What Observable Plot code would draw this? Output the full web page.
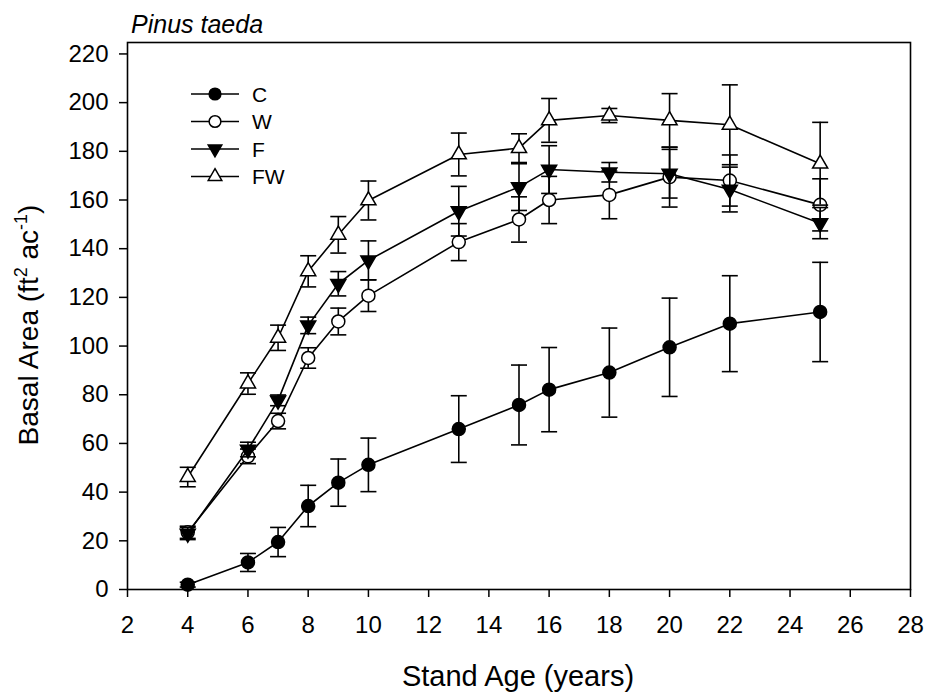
<!DOCTYPE html>
<html>
<head>
<meta charset="utf-8">
<script src="https://cdn.jsdelivr.net/npm/d3@7"></script>
<script src="https://cdn.jsdelivr.net/npm/@observablehq/plot@0.6"></script>
<style>
  html, body { margin: 0; padding: 0; background: #fff; }
  #chart { width: 925px; height: 692px; }
</style>
</head>
<body>
<div id="chart"></div>
<script>
// ---- data ----
const ages = [4, 6, 7, 8, 9, 10, 13, 15, 16, 18, 20, 22, 25];
const seriesNames = ["C", "W", "F", "FW"];
const C_mean  = [2, 11.1, 19.5, 34.3, 43.9, 51.2, 65.9, 75.8, 82.1, 89.1, 99.5, 109.2, 114];
const C_err   = [1, 3.7, 6, 8.5, 9.7, 11, 13.7, 16.4, 17.3, 18.3, 20.2, 19.7, 20.4];
const W_mean  = [23.5, 54.7, 69.2, 95.1, 110.1, 120.7, 142.7, 152, 160, 162.1, 169.4, 168, 158];
const W_err   = [2.5, 3, 3.2, 4.2, 5.5, 6.5, 7.6, 9.3, 9.7, 9.8, 12.3, 10.5, 10.7];
const F_mean  = [23, 57.5, 77.7, 108.5, 125.6, 135.2, 155.4, 165.3, 172.5, 171.4, 170.8, 164.3, 150.5];
const F_err   = [2.5, 3, 2.2, 3.4, 5, 8, 10.2, 9.6, 9.8, 4, 10, 9.2, 6.4];
const FW_mean = [46.2, 84.6, 103.4, 130.7, 145.7, 159.8, 178.7, 181.3, 192.7, 194.7, 192.7, 190.9, 174.9];
const FW_err  = [4, 4.4, 5.2, 6.4, 7.5, 8, 8.8, 5.9, 9, 2.9, 11, 16.4, 17];
const xTicks = [2, 4, 6, 8, 10, 12, 14, 16, 18, 20, 22, 24, 26, 28];
const yTicks = [0, 20, 40, 60, 80, 100, 120, 140, 160, 180, 200, 220];
const titleText = "Pinus taeda";
const xLabel = "Stand Age (years)";

// ---- build table ----
const means = {C: C_mean, W: W_mean, F: F_mean, FW: FW_mean};
const errs = {C: C_err, W: W_err, F: F_err, FW: FW_err};
const table = seriesNames.map(s => ages.map((a, i) => ({series: s, age: a, mean: means[s][i], err: errs[s][i]})));

// custom symbols
const capSymbol = { draw(ctx) { ctx.moveTo(-8, 0); ctx.lineTo(8, 0); } };
const triDown = { draw(ctx, size) {
  const y = -Math.sqrt(size / (Math.sqrt(3) * 3));
  const s3 = Math.sqrt(3);
  ctx.moveTo(0, -y * 2);
  ctx.lineTo(s3 * y, y);
  ctx.lineTo(-s3 * y, y);
  ctx.closePath();
} };
const style = {
  C:  {symbol: "circle", fill: "black", r: 6.5},
  W:  {symbol: "circle", fill: "white", r: 6.5},
  F:  {symbol: triDown, fill: "black", r: 5.6},
  FW: {symbol: "triangle", fill: "white", r: 5.6}
};

const marks = [];
table.forEach((rows, k) => {
  const st = style[seriesNames[k]];
  marks.push(Plot.line(rows, {x: "age", y: "mean", stroke: "black", strokeWidth: 1.6}));
  marks.push(Plot.ruleX(rows, {x: "age", y1: d => d.mean - d.err, y2: d => d.mean + d.err, stroke: "black", strokeWidth: 1.6}));
  marks.push(Plot.dot(rows, {x: "age", y: d => d.mean + d.err, symbol: capSymbol, stroke: "black", fill: "none", strokeWidth: 1.6}));
  marks.push(Plot.dot(rows, {x: "age", y: d => d.mean - d.err, symbol: capSymbol, stroke: "black", fill: "none", strokeWidth: 1.6}));
  marks.push(Plot.dot(rows, {x: "age", y: "mean", symbol: st.symbol, r: st.r, fill: st.fill, stroke: "black", strokeWidth: 1.5}));
});

const chart = Plot.plot({
  width: 925,
  height: 692,
  marginLeft: 127,
  marginRight: 15,
  marginTop: 42,
  marginBottom: 103,
  style: {fontFamily: "'Liberation Sans', Arial, sans-serif", fontSize: "24px", color: "black", background: "white"},
  x: {domain: [2, 28], ticks: xTicks, label: null},
  y: {domain: [0, 224.7], ticks: yTicks, label: null},
  marks: [
    Plot.axisX({ticks: xTicks, tickSize: 8, tickPadding: 18, fontSize: 24, stroke: "black", strokeWidth: 1.5, label: null}),
    Plot.axisY({ticks: yTicks, tickSize: 8, tickPadding: 11, fontSize: 24, stroke: "black", strokeWidth: 1.5, label: null}),
    ...marks,
    Plot.frame({stroke: "black", strokeWidth: 1.6})
  ]
});
document.getElementById("chart").appendChild(chart);

// ---- titles & legend ----
const svg = d3.select(chart);
const ff = "'Liberation Sans', Arial, sans-serif";
svg.append("text").attr("x", 131).attr("y", 33).attr("text-anchor", "start").attr("font-family", ff).attr("font-size", 25)
  .attr("font-style", "italic").attr("fill", "black").text(titleText);
svg.append("text").attr("x", 518).attr("y", 686).attr("text-anchor", "middle").attr("font-family", ff)
  .attr("font-size", 29).attr("fill", "black").text(xLabel);
const yl = svg.append("text").attr("transform", "translate(38,325) rotate(-90)").attr("text-anchor", "middle")
  .attr("font-family", ff).attr("font-size", 28).attr("fill", "black");
yl.append("tspan").text("Basal Area (ft");
yl.append("tspan").attr("font-size", 18).attr("dy", -11).text("2");
yl.append("tspan").attr("dy", 11).text(" ac");
yl.append("tspan").attr("font-size", 18).attr("dy", -11).text("-1");
yl.append("tspan").attr("dy", 11).text(")");

const leg = svg.append("g").attr("transform", "translate(191,94)");
seriesNames.forEach((s, i) => {
  const g = leg.append("g").attr("transform", `translate(0,${i * 27.5})`);
  g.append("line").attr("x1", 0).attr("x2", 48).attr("y1", 0).attr("y2", 0).attr("stroke", "black").attr("stroke-width", 1.6);
  const st = style[s];
  const type = st.symbol === "circle" ? d3.symbolCircle : st.symbol === "triangle" ? d3.symbolTriangle : st.symbol;
  const rr = st.r * 0.9;
  g.append("path").attr("transform", "translate(24,0)").attr("d", d3.symbol(type, Math.PI * rr * rr)())
    .attr("fill", st.fill).attr("stroke", "black").attr("stroke-width", 1.5);
  g.append("text").attr("x", 61).attr("y", 7.5).attr("text-anchor", "start").attr("font-family", ff).attr("font-size", 21).attr("fill", "black").text(s);
});
</script>
</body>
</html>
